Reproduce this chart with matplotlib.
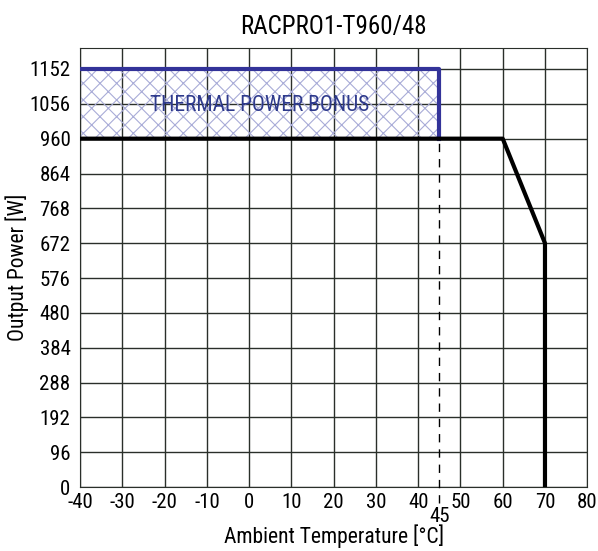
import matplotlib.pyplot as plt
import numpy as np

# derating curve
temp = [-40, 60, 70, 70]
power = [960, 960, 672, 0]

# thermal bonus region
bonus_x = [-40, 45]
bonus_low = 960
bonus_high = 1152

x_ticks = list(range(-40, 81, 10))
y_ticks = list(range(0, 1153, 96))

plt.rcParams['font.family'] = ['Roboto Condensed', 'Liberation Sans Narrow', 'Roboto', 'DejaVu Sans']
plt.rcParams['axes.unicode_minus'] = False
plt.rcParams['hatch.color'] = '#a9acd8'
plt.rcParams['hatch.linewidth'] = 0.8

fig = plt.figure(figsize=(5.98, 5.51), dpi=100)
ax = fig.add_axes([0.134, 0.116, 0.848, 0.797])

ax.set_xlim(-40, 80)
ax.set_ylim(0, 1210)
ax.set_xticks(x_ticks)
ax.set_yticks(y_ticks)
ax.tick_params(length=0, labelsize=15)
ax.tick_params(axis='y', pad=7)
ax.tick_params(axis='x', pad=4)
ax.grid(True, color='#2a2f2a', linewidth=1)
ax.set_axisbelow(True)
for s in ax.spines.values():
    s.set_color('#2a2f2a')

# bonus box
ax.fill_between(bonus_x, bonus_low, bonus_high, facecolor='none',
                hatch='xx', edgecolor='#a9acd8', linewidth=0, zorder=2)
ax.plot([bonus_x[0], bonus_x[1], bonus_x[1]], [bonus_high, bonus_high, bonus_low],
        color='#333399', linewidth=3, zorder=3)
ax.text(2.5, 1052, 'THERMAL POWER BONUS', color='#2e3a8c',
        fontsize=15.5, ha='center', va='center', zorder=4)

# dashed 45 line
ax.plot([45, 45], [-45, 960], color='black', linewidth=1, linestyle=(0, (6, 5)),
        clip_on=False, zorder=3)
ax.text(45, -80, '45', fontsize=15, ha='center', va='center')

ax.plot(temp, power, color='black', linewidth=3, zorder=4)

ax.set_title('RACPRO1-T960/48', fontsize=18, pad=10)
ax.set_xlabel('Ambient Temperature [°C]', fontsize=15.5)
ax.set_ylabel('Output Power [W]', fontsize=15.5)
ax.xaxis.set_label_coords(0.5, -0.085)
ax.yaxis.set_label_coords(-0.1, 0.5)

fig.savefig('out.png', dpi=100)
